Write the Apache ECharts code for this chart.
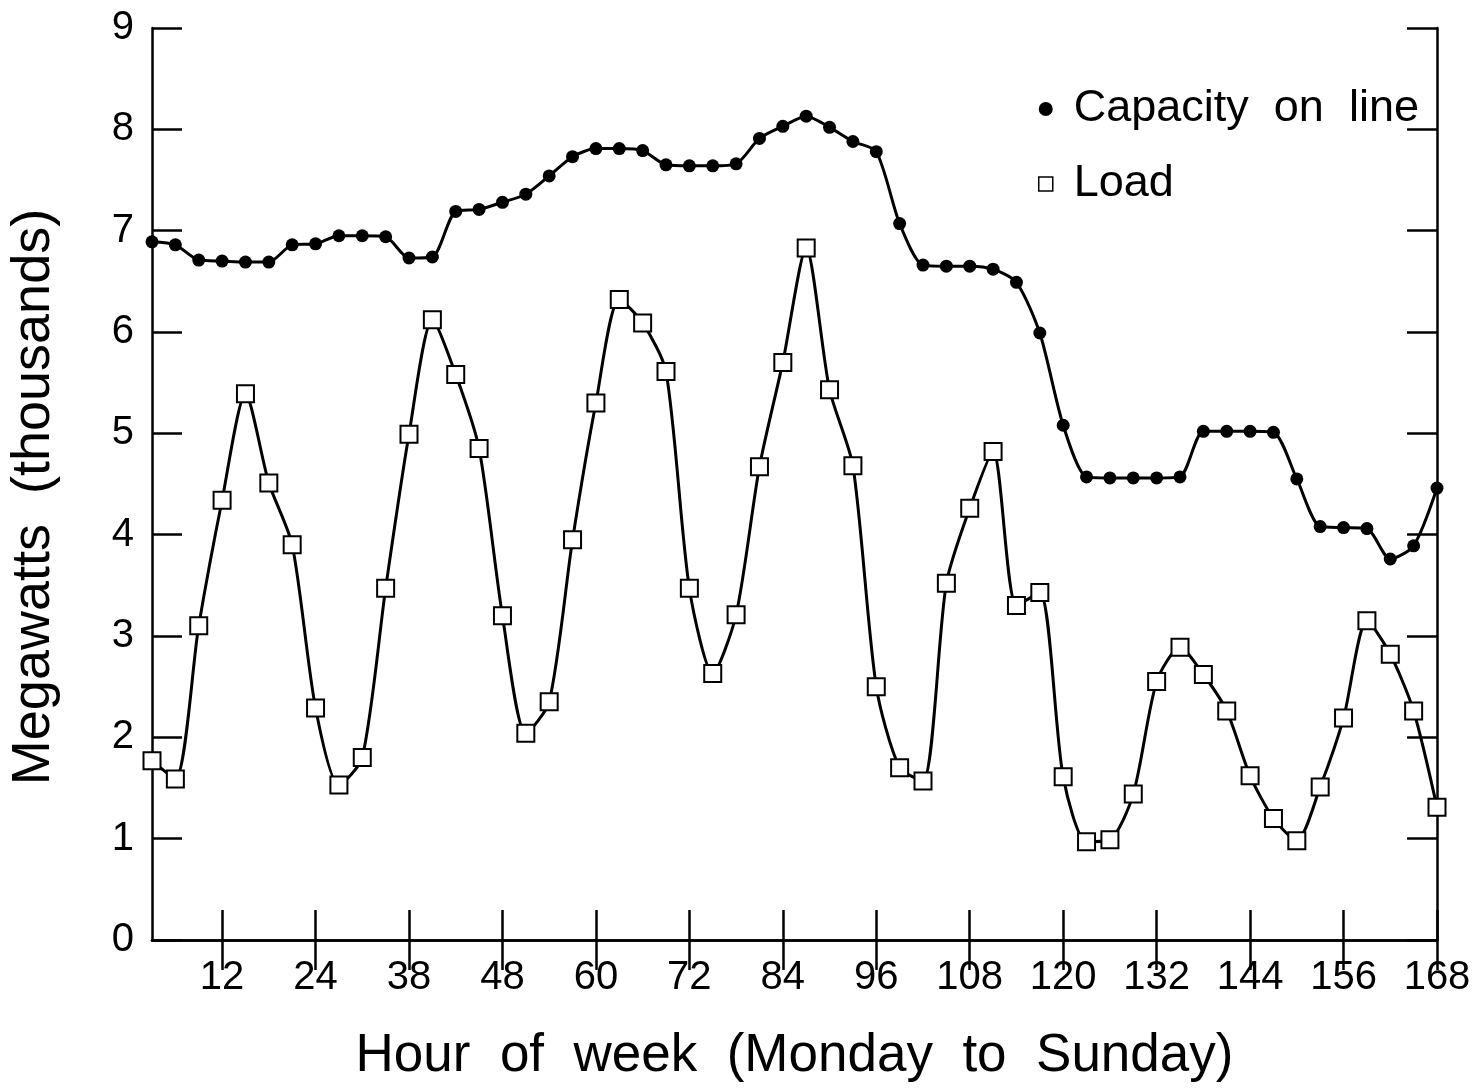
<!DOCTYPE html>
<html>
<head>
<meta charset="utf-8">
<title>Capacity on line and load</title>
<script src="https://cdn.jsdelivr.net/npm/echarts@6/dist/echarts.min.js"></script>
<style>
  html, body { margin: 0; padding: 0; background: #fff; }
  #chart { width: 1476px; height: 1088px; }
</style>
</head>
<body>
<div id="chart"></div>
<script>
// hour of week, one reading every 3 hours
const hours = [3, 6, 9, 12, 15, 18, 21, 24, 27, 30, 33, 36, 39, 42, 45, 48, 51, 54, 57, 60,
  63, 66, 69, 72, 75, 78, 81, 84, 87, 90, 93, 96, 99, 102, 105, 108, 111, 114, 117, 120,
  123, 126, 129, 132, 135, 138, 141, 144, 147, 150, 153, 156, 159, 162, 165, 168]

// megawatts (thousands)
const capacity = [6.89, 6.86, 6.71, 6.70, 6.69, 6.69, 6.86, 6.87, 6.95, 6.95,
  6.94, 6.73, 6.74, 7.19, 7.21, 7.28, 7.36, 7.54, 7.73, 7.81,
  7.81, 7.79, 7.65, 7.64, 7.64, 7.66, 7.91, 8.03, 8.13, 8.02,
  7.88, 7.78, 7.07, 6.66, 6.65, 6.65, 6.62, 6.49, 5.99, 5.08,
  4.57, 4.56, 4.56, 4.56, 4.57, 5.02, 5.02, 5.02, 5.01, 4.55,
  4.08, 4.07, 4.06, 3.76, 3.89, 4.46]

const load = [1.77, 1.59, 3.10, 4.34, 5.39, 4.51, 3.90, 2.29, 1.53, 1.80,
  3.47, 4.99, 6.12, 5.58, 4.85, 3.20, 2.04, 2.35, 3.95, 5.30,
  6.32, 6.09, 5.61, 3.47, 2.63, 3.21, 4.67, 5.70, 6.83, 5.43,
  4.68, 2.50, 1.70, 1.57, 3.52, 4.26, 4.82, 3.30, 3.43, 1.61,
  0.97, 0.99, 1.44, 2.55, 2.89, 2.62, 2.26, 1.62, 1.20, 0.98,
  1.51, 2.19, 3.15, 2.82, 2.26, 1.31]

// tick positions and the labels printed under them (the original prints 38 at hour 36)
const xTicks = [12, 24, 36, 48, 60, 72, 84, 96, 108, 120, 132, 144, 156, 168]
const xTickLabels = ['12', '24', '38', '48', '60', '72', '84', '96', '108', '120', '132', '144', '156', '168']

const font = 'Liberation Sans, Arial, Helvetica, sans-serif'
const ink = '#000'

const chart = echarts.init(document.getElementById('chart'), null, { renderer: 'canvas' })

const frameLine = { show: true, lineStyle: { color: ink, width: 2.5 } }
const tickStyle = { lineStyle: { color: ink, width: 2.5 } }

chart.setOption({
  backgroundColor: '#fff',
  animation: false,
  textStyle: { fontFamily: font, color: ink },
  grid: { left: 152, right: 39, top: 28, bottom: 148, containLabel: false, outerBoundsMode: 'none' },
  legend: {
    orient: 'vertical',
    left: 1038,
    top: 84,
    padding: 0,
    itemGap: 25,
    itemWidth: 14,
    itemHeight: 14,
    textStyle: { fontFamily: font, fontSize: 45, lineHeight: 50, color: ink, padding: [0, 0, 0, 16] },
    data: [
      { name: 'Capacity  on  line', icon: 'circle', itemStyle: { color: ink, borderWidth: 0 } },
      { name: 'Load', icon: 'rect', itemStyle: { color: '#fff', borderColor: ink, borderWidth: 1.5 } }
    ]
  },
  xAxis: [{
    type: 'value',
    min: 3,
    max: 168,
    name: 'Hour  of  week  (Monday  to  Sunday)',
    nameLocation: 'middle',
    nameGap: 90,
    nameTextStyle: { fontFamily: font, fontSize: 53, color: ink },
    axisLine: frameLine,
    axisTick: { inside: true, length: 30, customValues: xTicks, ...tickStyle },
    axisLabel: {
      customValues: xTicks,
      margin: 18,
      fontFamily: font,
      fontSize: 40,
      color: ink,
      formatter: v => xTickLabels[xTicks.indexOf(v)]
    },
    splitLine: { show: false }
  }, {
    type: 'value',
    position: 'top',
    min: 3,
    max: 168,
    axisLine: frameLine,
    axisTick: { inside: true, length: 30, customValues: xTicks, ...tickStyle },
    axisLabel: { show: false },
    splitLine: { show: false }
  }],
  yAxis: [{
    type: 'value',
    min: 0,
    max: 9,
    interval: 1,
    name: 'Megawatts  (thousands)',
    nameLocation: 'middle',
    nameGap: 91,
    nameTextStyle: { fontFamily: font, fontSize: 54, color: ink, padding: [0, 26, 0, 0] },
    axisLine: frameLine,
    axisTick: { show: true, inside: true, length: 30, ...tickStyle },
    axisLabel: { margin: 18, fontFamily: font, fontSize: 40, color: ink },
    splitLine: { show: false }
  }, {
    type: 'value',
    position: 'right',
    min: 0,
    max: 9,
    interval: 1,
    axisLine: frameLine,
    axisTick: { show: true, inside: true, length: 30, ...tickStyle },
    axisLabel: { show: false },
    splitLine: { show: false }
  }],
  series: [{
    name: 'Capacity  on  line',
    type: 'line',
    smooth: 0.25,
    clip: false,
    symbol: 'circle',
    symbolSize: 13,
    lineStyle: { color: ink, width: 3 },
    itemStyle: { color: ink },
    data: hours.map((h, i) => [h, capacity[i]])
  }, {
    name: 'Load',
    type: 'line',
    smooth: 0.25,
    clip: false,
    symbol: 'rect',
    symbolSize: 17,
    lineStyle: { color: ink, width: 3 },
    itemStyle: { color: '#fff', borderColor: ink, borderWidth: 2 },
    data: hours.map((h, i) => [h, load[i]])
  }]
})
</script>
</body>
</html>
